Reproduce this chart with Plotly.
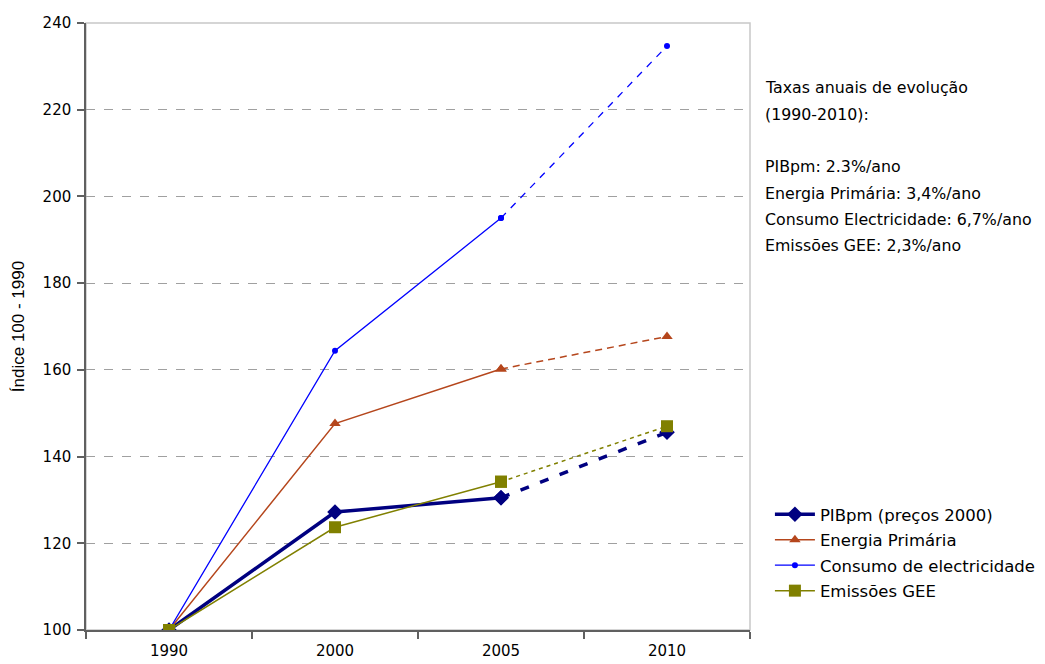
import plotly.graph_objects as go

years = ["1990", "2000", "2005", "2010"]
pib = [100, 127.2, 130.5, 145.6]
energia = [100, 147.6, 160.2, 167.7]
electricidade = [100, 164.4, 195.0, 234.7]
gee = [100, 123.7, 134.2, 147.0]

names = ["PIBpm (preços 2000)", "Energia Primária", "Consumo de electricidade", "Emissões GEE"]
y_ticks = [100, 120, 140, 160, 180, 200, 220, 240]

notes = [
    "Taxas anuais de evolução",
    "(1990-2010):",
    "",
    "PIBpm: 2.3%/ano",
    "Energia Primária: 3,4%/ano",
    "Consumo Electricidade: 6,7%/ano",
    "Emissões GEE: 2,3%/ano",
]

styles = [
    dict(color="#000080", width=3.5, symbol="diamond", msize=12, dash="9px,12px"),
    dict(color="#B5461C", width=1.5, symbol="triangle-up", msize=10, dash="7px,5px"),
    dict(color="#0000FF", width=1.3, symbol="circle", msize=6, dash="7px,7px"),
    dict(color="#808000", width=1.5, symbol="square", msize=12, dash="4px,4px"),
]

series = [pib, energia, electricidade, gee]

fig = go.Figure()
for i, (name, vals, st) in enumerate(zip(names, series, styles)):
    fig.add_trace(go.Scatter(
        x=years[:3], y=vals[:3], name=name, mode="lines+markers",
        line=dict(color=st["color"], width=st["width"]),
        marker=dict(symbol=st["symbol"], size=st["msize"], color=st["color"]),
        legendgroup=f"g{i}", showlegend=True,
    ))
    fig.add_trace(go.Scatter(
        x=years[2:], y=vals[2:], name=name, mode="lines+markers",
        line=dict(color=st["color"], width=st["width"], dash=st["dash"]),
        marker=dict(symbol=st["symbol"], size=st["msize"], color=st["color"]),
        legendgroup=f"g{i}", showlegend=False,
    ))

font_main = "DejaVu Sans"

# page body adds an 8px offset; compensate so plot area spans x 86-750, y 23-630
W, H = 1037, 656
L, T = 78, 15
PW, PH = 664, 607

fig.update_layout(
    width=W, height=H,
    margin=dict(l=L, r=W - L - PW, t=T, b=H - T - PH, autoexpand=False),
    paper_bgcolor="white", plot_bgcolor="white",
    showlegend=True,
    legend=dict(
        x=1.03, y=0.219, xanchor="left", yanchor="top",
        font=dict(family=font_main, size=16.5, color="#000000"),
        traceorder="grouped", tracegroupgap=1,
        bgcolor="rgba(0,0,0,0)", itemwidth=40,
    ),
    xaxis=dict(
        type="category", range=[-0.5, 3.5], tickson="boundaries",
        ticks="outside", ticklen=7, tickcolor="#606060", tickwidth=1.5,
        showline=True, linecolor="#606060", linewidth=1.5,
        showgrid=False, zeroline=False, ticklabelstandoff=6,
        tickfont=dict(family=font_main, size=15, color="#000000"),
    ),
    yaxis=dict(
        range=[100, 240], tickvals=y_ticks,
        ticks="outside", ticklen=7, tickcolor="#606060", tickwidth=1.5,
        showline=True, linecolor="#606060", linewidth=1.5,
        showgrid=True, gridcolor="#A0A0A0", griddash="dash", gridwidth=1,
        zeroline=False, ticklabelstandoff=3,
        tickfont=dict(family=font_main, size=15, color="#000000"),
        title=dict(text="Índice 100 - 1990", standoff=14,
                   font=dict(family="Liberation Sans", size=17, color="#000000")),
    ),
)

fig.add_shape(type="rect", xref="paper", yref="paper", x0=0, x1=1, y0=0, y1=1,
              line=dict(color="#C8C8C8", width=1.5), layer="below")

y0 = 88
for k, t in enumerate(notes):
    if not t:
        continue
    fig.add_annotation(
        text=t, xref="paper", yref="paper",
        x=(763 - 86) / PW, y=1 - ((y0 + k * 26.3) - 23) / PH,
        xanchor="left", yanchor="middle", showarrow=False,
        font=dict(family=font_main, size=15.8, color="#000000"),
    )

fig.write_html("out.html")
